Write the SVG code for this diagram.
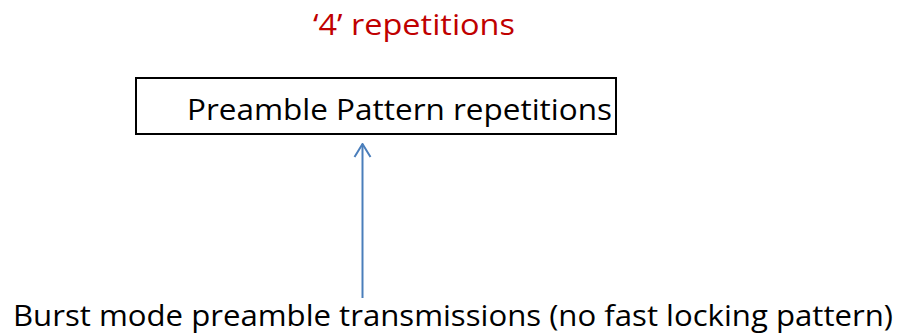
<svg xmlns="http://www.w3.org/2000/svg" width="901" height="335" viewBox="0 0 901 335">
<style>
text{font-family:"Open Sans","Liberation Sans",Arial,sans-serif;font-size:29px;}
.red{fill:#C00000;}
.blk{fill:#000;}
.box{fill:#fff;stroke:#000;stroke-width:2;}
.conn{stroke:#4A7EBB;stroke-width:2;fill:none;}
</style>
<defs>
<marker id="arr" markerWidth="20" markerHeight="20" refX="10" refY="1" orient="0" markerUnits="userSpaceOnUse">
<path d="M2,14 L10,1 L18,14" fill="none" stroke="#4A7EBB" stroke-width="2"/>
</marker>
</defs>
<rect width="901" height="335" fill="#fff"/>
<g id="title">
<text class="red" x="313" y="35" textLength="202" lengthAdjust="spacingAndGlyphs">‘4’ repetitions</text>
</g>
<g id="preamble-box">
<rect class="box" x="136" y="78" width="480" height="56"/>
<text class="blk" x="187" y="120" textLength="425" lengthAdjust="spacingAndGlyphs">Preamble Pattern repetitions</text>
</g>
<g id="burst-label">
<text class="blk" x="13" y="326" textLength="880" lengthAdjust="spacingAndGlyphs">Burst mode preamble transmissions (no fast locking pattern)</text>
</g>
<g id="connectors">
<line class="conn" x1="362.5" y1="298" x2="362.5" y2="144" marker-end="url(#arr)"/>
</g>
</svg>
